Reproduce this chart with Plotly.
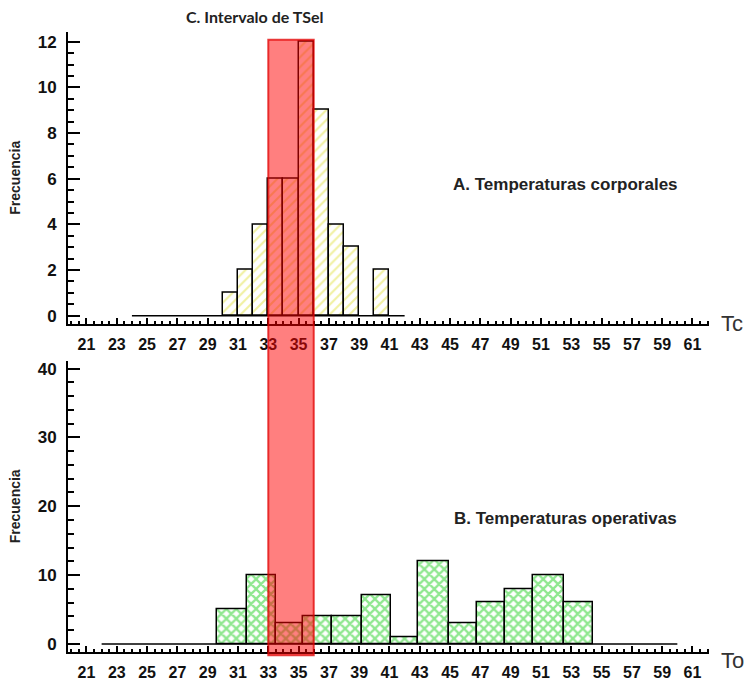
import plotly.graph_objects as go

# ---------------- data ----------------
# A. Body temperatures (Tc): bin edges and counts
tc_edges = [24, 25, 26, 27, 28, 29, 30, 31, 32, 33, 34, 35, 36, 37, 38, 39, 40, 41, 42]
tc_counts = [0, 0, 0, 0, 0, 0, 1, 2, 4, 6, 6, 12, 9, 4, 3, 0, 2, 0]

# B. Operative temperatures (To): bin edges and counts
to_edges = [22, 29.6, 31.6, 33.5, 35.3, 37.2, 39.2, 41.1, 42.9, 44.9, 46.8,
            48.6, 50.5, 52.5, 54.4, 60]
to_counts = [0, 5, 10, 3, 4, 4, 7, 1, 12, 3, 6, 8, 10, 6, 0]

# C. Selected temperature interval (TSel)
tsel_range = [33, 36]

x_tick_values = list(range(21, 62, 2))
tc_y_ticks = list(range(0, 13, 2))
to_y_ticks = list(range(0, 41, 10))

# ---------------- helpers ----------------
W, H = 746, 681


def px_x(p):
    return p / W


def px_y(p):
    return 1 - p / H


def bars(edges, counts):
    xs, ys, ws = [], [], []
    for i, c in enumerate(counts):
        if c > 0:
            xs.append((edges[i] + edges[i + 1]) / 2)
            ws.append(edges[i + 1] - edges[i])
            ys.append(c)
    return xs, ys, ws


AX = "Liberation Sans"

fig = go.Figure()

# baseline of histogram A
fig.add_trace(go.Scatter(x=[tc_edges[0], tc_edges[-1]], y=[0, 0], mode="lines",
                         line=dict(color="black", width=1.5),
                         xaxis="x", yaxis="y", hoverinfo="skip"))
bx, by, bw = bars(tc_edges, tc_counts)
fig.add_trace(go.Bar(x=bx, y=by, width=bw, xaxis="x", yaxis="y",
                     marker=dict(color="white",
                                 line=dict(color="black", width=1.5),
                                 pattern=dict(shape="/", fgcolor="#e2e244",
                                              bgcolor="white", size=7,
                                              solidity=0.3))))

# baseline of histogram B
fig.add_trace(go.Scatter(x=[to_edges[0], to_edges[-1]], y=[0, 0], mode="lines",
                         line=dict(color="black", width=1.5),
                         xaxis="x2", yaxis="y2", hoverinfo="skip"))
bx, by, bw = bars(to_edges, to_counts)
fig.add_trace(go.Bar(x=bx, y=by, width=bw, xaxis="x2", yaxis="y2",
                     marker=dict(color="white",
                                 line=dict(color="black", width=1.5),
                                 pattern=dict(shape="x", fgcolor="#1fd01f",
                                              bgcolor="white", size=7,
                                              solidity=0.55))))

x_dom = [px_x(68), px_x(709)]
x_rng = [19.78, 62.09]

xcommon = dict(domain=x_dom, range=x_rng, tickmode="array", tickvals=x_tick_values,
               ticks="inside", ticklen=6, tickwidth=1.5, tickcolor="black",
               minor=dict(tickmode="linear", tick0=21, dtick=0.5, ticks="inside",
                          ticklen=3, tickwidth=1.5, tickcolor="black"),
               showline=True, linecolor="black", linewidth=2,
               showgrid=False, zeroline=False, ticklabelstandoff=5,
               tickfont=dict(family=AX, size=16, color="#111", weight="bold"))

ycommon = dict(ticks="inside", ticklen=12, tickwidth=1.5, tickcolor="black",
               showline=True, linecolor="black", linewidth=2,
               showgrid=False, zeroline=False, ticklabelstandoff=6,
               tickmode="array")

fig.update_layout(
    width=W, height=H,
    margin=dict(l=0, r=0, t=0, b=0),
    paper_bgcolor="white", plot_bgcolor="white",
    showlegend=False, bargap=0,
    xaxis=dict(anchor="y", **xcommon),
    xaxis2=dict(anchor="y2", **xcommon),
    yaxis=dict(anchor="x", domain=[px_y(324), px_y(30)], range=[-0.348, 12.435],
               tickvals=tc_y_ticks,
               minor=dict(tickmode="linear", tick0=0, dtick=0.5, ticks="inside",
                          ticklen=6, tickwidth=1.5, tickcolor="black"),
               tickfont=dict(family=AX, size=17, color="#111", weight="bold"),
               **ycommon),
    yaxis2=dict(anchor="x2", domain=[px_y(655), px_y(362)], range=[-1.2, 41.05],
                tickvals=to_y_ticks,
                minor=dict(tickmode="linear", tick0=0, dtick=2, ticks="inside",
                           ticklen=6, tickwidth=1.5, tickcolor="black"),
                tickfont=dict(family=AX, size=17, color="#111", weight="bold"),
                **ycommon),
)

# selected temperature interval band spanning both panels
fig.add_shape(type="rect", xref="x", yref="paper",
              x0=tsel_range[0], x1=tsel_range[1], y0=px_y(658), y1=px_y(38),
              fillcolor="rgba(255,0,0,0.5)",
              line=dict(color="rgba(225,0,0,0.75)", width=2), layer="above")

ann = [
    dict(text="C. Intervalo de TSel", x=px_x(255), y=px_y(15),
         font=dict(family="Lato", size=16, color="#222", weight="bold")),
    dict(text="A. Temperaturas corporales", x=px_x(565), y=px_y(184),
         font=dict(family=AX, size=17, color="#222", weight="bold")),
    dict(text="B. Temperaturas operativas", x=px_x(565), y=px_y(520),
         font=dict(family=AX, size=17, color="#222", weight="bold")),
    dict(text="Tc", x=px_x(732), y=px_y(324),
         font=dict(family=AX, size=22, color="#333")),
    dict(text="To", x=px_x(732), y=px_y(663),
         font=dict(family=AX, size=22, color="#333")),
    dict(text="Frecuencia", x=px_x(15), y=px_y(177), textangle=-90,
         font=dict(family=AX, size=14, color="#222", weight="bold")),
    dict(text="Frecuencia", x=px_x(15), y=px_y(508), textangle=-90,
         font=dict(family=AX, size=14, color="#222", weight="bold")),
]
for a in ann:
    fig.add_annotation(xref="paper", yref="paper", showarrow=False,
                       xanchor="center", yanchor="middle", **a)

fig.write_html("out.html")
